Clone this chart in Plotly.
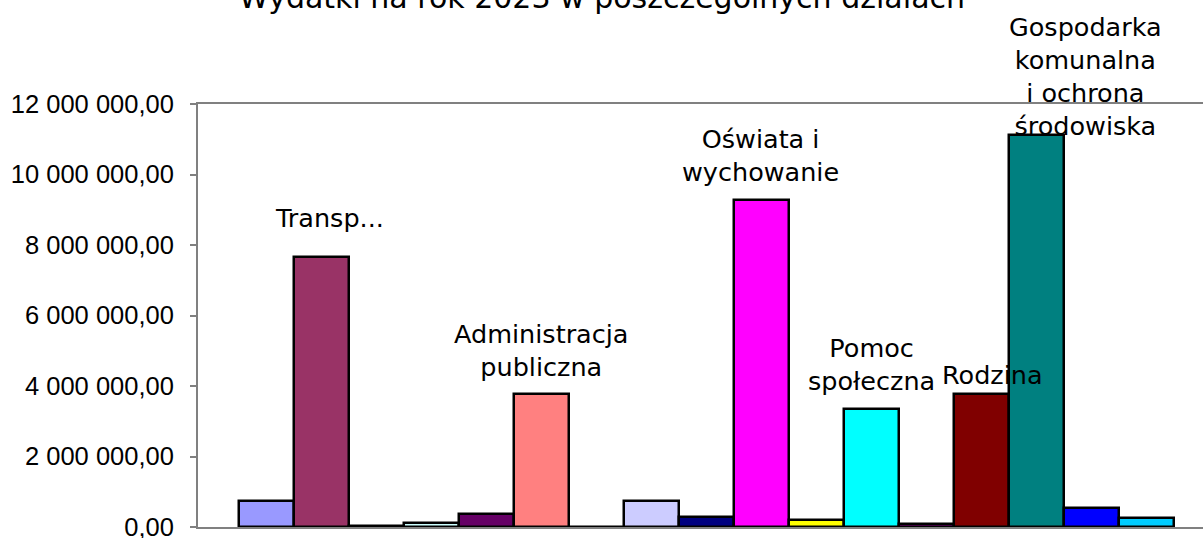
import plotly.graph_objects as go

# Data
categories = [
    "Rolnictwo i łowiectwo", "Transport i łączność", "Turystyka",
    "Działalność usługowa", "Gospodarka mieszkaniowa", "Administracja publiczna",
    "Urzędy naczelnych organów władzy", "Bezpieczeństwo publiczne",
    "Obsługa długu publicznego", "Oświata i wychowanie", "Ochrona zdrowia",
    "Pomoc społeczna", "Edukacyjna opieka wychowawcza", "Rodzina",
    "Gospodarka komunalna i ochrona środowiska", "Kultura i ochrona dziedzictwa narodowego",
    "Kultura fizyczna",
]
values = [
    737000, 7660000, 15000, 100000, 369000, 3770000,
    0, 737000, 284000, 9280000, 200000,
    3350000, 90000, 3770000, 11120000, 539000, 255000,
]
colors = [
    "#9999FF", "#993366", "#FFFFCC", "#CCFFFF", "#660066", "#FF8080",
    "#0066CC", "#CCCCFF", "#000080", "#FF00FF", "#FFFF00",
    "#00FFFF", "#800080", "#800000", "#008080", "#0000FF", "#00CCFF",
]
tick_vals = [0, 2000000, 4000000, 6000000, 8000000, 10000000, 12000000]
tick_text = ["0,00", "2 000 000,00", "4 000 000,00", "6 000 000,00",
             "8 000 000,00", "10 000 000,00", "12 000 000,00"]
title_text = "Wydatki na rok 2023 w poszczególnych działach"

# Labels shown on the chart: (category index, text)
labels = [
    (1, "Transp..."),
    (5, "Administracja<br>publiczna"),
    (9, "Oświata i<br>wychowanie"),
    (11, "Pomoc<br>społeczna"),
    (13, "Rodzina"),
    (14, "Gospodarka<br>komunalna<br>i ochrona<br>środowiska"),
]
label_dx = [8, 0, -1, 0, 11, 49]
label_dy = [39, 44, 44, 44, 19, 59]

fig = go.Figure()
fig.add_trace(go.Bar(
    x=categories, y=values, width=1.0,
    marker=dict(color=colors, line=dict(color="#000000", width=2.5)),
    showlegend=False, hoverinfo="x+y",
))

for (idx, txt), dx, dy in zip(labels, label_dx, label_dy):
    fig.add_annotation(
        x=categories[idx], y=values[idx], xref="x", yref="y", text=txt,
        showarrow=False, xshift=dx, yshift=dy, yanchor="middle", align="center",
        font=dict(family="DejaVu Sans", size=25.5, color="#000000"),
    )

fig.add_annotation(
    x=(602 - 198) / 1005, y=1, xref="paper", yref="paper",
    yanchor="middle", yshift=107, text=title_text, showarrow=False,
    font=dict(family="DejaVu Sans", size=30, color="#000000"),
)

fig.update_layout(
    width=1203, height=538,
    margin=dict(l=198, r=0, t=104, b=11, autoexpand=False),
    paper_bgcolor="white", plot_bgcolor="white",
    bargap=0,
    xaxis=dict(
        type="category", range=[-1.245, 17.027], showticklabels=False,
        showgrid=False, zeroline=False, showline=True, mirror=True,
        linecolor="#808080", linewidth=2, ticks="", automargin=False,
    ),
    yaxis=dict(
        range=[0, 12000000], tickvals=tick_vals, ticktext=tick_text,
        showgrid=False, zeroline=False, showline=True, linecolor="#808080",
        linewidth=2, ticks="outside", ticklen=6, tickcolor="#808080",
        tickwidth=1.5, ticklabelstandoff=11, ticklabeloverflow="allow",
        automargin=False,
        tickfont=dict(family="Liberation Sans", size=25.5, color="#000000"),
    ),
)

fig.write_html(
    "out.html",
    config={"displayModeBar": False},
    post_script="document.body.style.margin='0';document.body.style.overflow='hidden';",
)
